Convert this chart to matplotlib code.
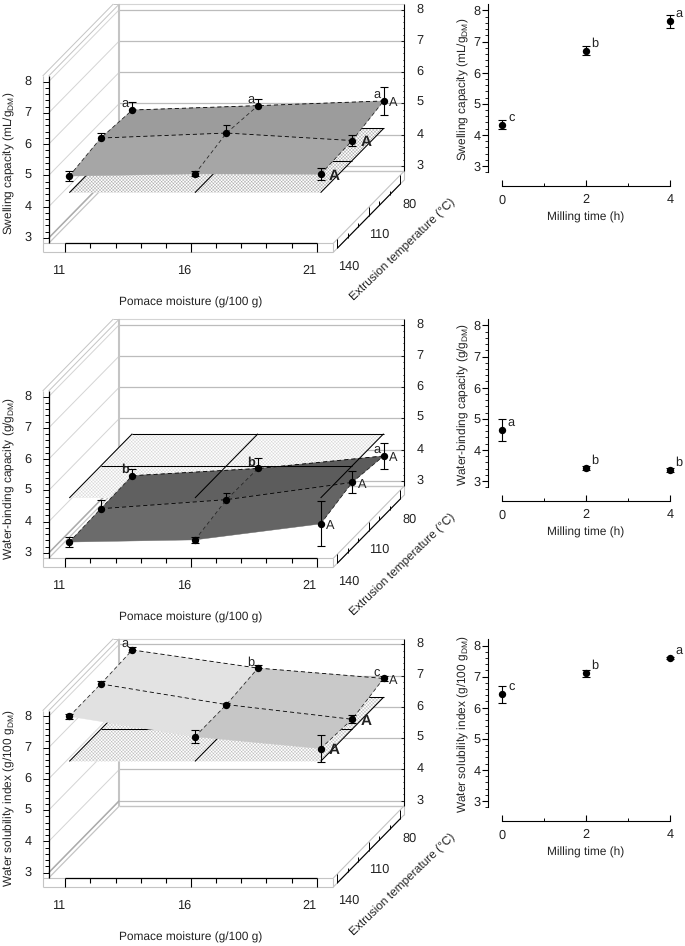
import matplotlib
matplotlib.use('Agg')
import matplotlib.pyplot as plt
from matplotlib.patches import Polygon
from matplotlib.ticker import MultipleLocator, FixedLocator

plt.rcParams['font.family'] = ['Liberation Sans', 'DejaVu Sans']
plt.rcParams['mathtext.fontset'] = 'custom'
plt.rcParams['mathtext.rm'] = 'Liberation Sans'
plt.rcParams['hatch.linewidth'] = 0.35
plt.rcParams['text.hinting'] = 'no_hinting'

W, H = 685, 946

moisture = [11, 16, 21]
temperature = [140, 110, 80]
milling = [0, 2, 4]

# rows = extrusion temperature 140, 110, 80; columns = moisture 11, 16, 21
swell_mean = [[4.85, 4.92, 4.91], [5.04, 5.20, 4.96], [4.91, 5.05, 5.20]]
swell_err = [[0.15, 0.08, 0.19], [0.15, 0.25, 0.19], [0.26, 0.22, 0.46]]
swell_mill = [4.32, 6.71, 7.65]
swell_mill_err = [0.145, 0.15, 0.215]
swell_mill_letters = ['c', 'b', 'a']
swell_row_letters = ['a', 'a', 'a']

wbc_mean = [[3.22, 3.29, 3.80], [3.26, 3.55, 4.10], [3.29, 3.52, 3.92]]
wbc_err = [[0.15, 0.10, 0.72], [0.27, 0.20, 0.35], [0.20, 0.32, 0.41]]
wbc_mill = [4.63, 3.42, 3.36]
wbc_mill_err = [0.35, 0.07, 0.07]
wbc_mill_letters = ['a', 'b', 'b']
wbc_row_letters = ['b', 'b', 'a']

wsi_mean = [[7.87, 7.22, 6.84], [7.88, 7.22, 6.75], [7.94, 7.36, 7.03]]
wsi_err = [[0.07, 0.20, 0.42], [0.10, 0.05, 0.13], [0.08, 0.11, 0.07]]
wsi_mill = [6.43, 7.10, 7.59]
wsi_mill_err = [0.28, 0.11, 0.04]
wsi_mill_letters = ['c', 'b', 'a']
wsi_row_letters = ['a', 'b', 'c']

# oblique scale of the 3d boxes
PX_M = 25.13
PX_V = 31.27
DEPTH_M = 2.812
DEPTH_V = 2.303
T_FRONT = 143.8
T_BACK = 76.5
M_LEFT_OUT = 10.098
M_LEFT = 10.337
M_RIGHT = 21.664
V_BASE = 2.83
V_STRIP = 2.543
V_TOP = 8.18

TICK_FS = 9.2
LABEL_FS = 8.6
TXT = '#222222'

fig = plt.figure(figsize=(W / 100, H / 100), dpi=100)


def depth(t):
    return (T_FRONT - t) / (T_FRONT - T_BACK)


def proj(m, t, v):
    f = depth(t)
    return m + f * DEPTH_M, v + f * DEPTH_V


def wall(m, f, v):
    return m + f * DEPTH_M, v + f * DEPTH_V


def seg(ax, a, b, color='k', lw=0.8, z=1, **kw):
    ax.plot([a[0], b[0]], [a[1], b[1]], color=color, lw=lw, zorder=z, solid_capstyle='butt', **kw)


def box_panel(y3, mean, err, plane, cells, row_letters, bold_a, plane_above, hatch_col, ylabel):
    top = y3 - 238
    ax = fig.add_axes([0, 1 - (top + 310) / H, 440 / W, 310 / H])
    ax.set_xlim(11 - 65.33 / PX_M, 11 + (440 - 65.33) / PX_M)
    ax.set_ylim(3 - 72 / PX_V, 3 + 238 / PX_V)
    ax.axis('off')

    grey = '#c4c4c4'
    # back wall and side wall
    for v in range(3, 9):
        seg(ax, wall(M_LEFT, 1, v), wall(M_RIGHT, 1, v), color='#bcbcbc', lw=0.9)
        seg(ax, wall(M_LEFT, 0, v), wall(M_LEFT, 1, v), color='#d4d4d4', lw=0.7)
    seg(ax, wall(M_LEFT, 1, V_TOP), wall(M_RIGHT, 1, V_TOP), color='#d4d4d4', lw=0.8)
    seg(ax, wall(M_LEFT, 1, V_BASE), wall(M_RIGHT, 1, V_BASE), color=grey, lw=1.0)
    seg(ax, wall(M_LEFT, 1, V_BASE), wall(M_LEFT, 1, V_TOP), color=grey, lw=1.5)
    seg(ax, wall(M_LEFT, 0, V_TOP), wall(M_LEFT, 1, V_TOP), color=grey, lw=0.7)
    seg(ax, wall(M_LEFT_OUT, 0, V_TOP), wall(M_LEFT_OUT, 1, V_TOP), color=grey, lw=0.7)
    seg(ax, wall(M_LEFT_OUT, 1, V_TOP), wall(M_LEFT, 1, V_TOP), color=grey, lw=0.7)
    seg(ax, wall(M_LEFT, 0, V_BASE), wall(M_LEFT, 1, V_BASE), color=grey, lw=0.9)
    seg(ax, wall(M_LEFT, 0, 3), wall(M_LEFT, 1, 3), color='#acacac', lw=1.1)

    # floor strips
    for a, b in [((M_LEFT_OUT, V_BASE), (M_RIGHT, V_BASE)), ((M_LEFT_OUT, V_STRIP), (M_RIGHT, V_STRIP)),
                 ((M_LEFT_OUT, V_STRIP), (M_LEFT_OUT, V_TOP)), ((M_RIGHT, V_STRIP), (M_RIGHT, V_BASE))]:
        seg(ax, a, b, color=grey, lw=0.8)
    seg(ax, wall(M_RIGHT, 0, V_BASE), wall(M_RIGHT, 1, V_BASE), color=grey, lw=0.8)
    seg(ax, wall(M_RIGHT, 0, V_STRIP), wall(M_RIGHT, 1, V_STRIP), color=grey, lw=0.8)
    seg(ax, wall(M_RIGHT, 1, V_STRIP), wall(M_RIGHT, 1, V_BASE), color=grey, lw=0.8)

    # front value axis
    seg(ax, (M_LEFT, V_BASE), (M_LEFT, V_TOP), lw=0.9, z=2)
    for i in range(3 * 5, 8 * 5 + 1):
        v = i / 5
        tick = M_LEFT_OUT if i % 5 == 0 else M_LEFT - 0.13
        seg(ax, (tick, v), (M_LEFT, v), lw=0.7, z=2)
    for v in range(3, 9):
        ax.annotate(str(v), (M_LEFT, v), xytext=(-20.5, 0), textcoords='offset pixels',
                    ha='center', va='center', fontsize=TICK_FS, color=TXT)

    # back value axis
    seg(ax, wall(M_RIGHT, 1, V_BASE), wall(M_RIGHT, 1, V_TOP), lw=0.8, z=2)
    for i in range(3 * 5, 8 * 5 + 1):
        v = i / 5
        tick = 0.1 if i % 5 == 0 else 0.05
        seg(ax, wall(M_RIGHT - tick, 1, v), wall(M_RIGHT, 1, v), lw=0.6, z=2)
    for v in range(3, 9):
        ax.annotate(str(v), wall(M_RIGHT, 1, v), xytext=(16, 0.5), textcoords='offset pixels',
                    ha='center', va='center', fontsize=TICK_FS, color=TXT)

    # moisture axis
    seg(ax, (moisture[0], V_BASE), (moisture[-1], V_BASE), lw=0.9, z=2)
    for m in range(11, 22):
        low = V_STRIP if (m - 11) % 5 == 0 else V_BASE - 0.15
        seg(ax, (m, low), (m, V_BASE), lw=0.8, z=2)
    for m in moisture:
        ax.annotate(str(m), (m, V_BASE), xytext=(-7, -27.5), textcoords='offset pixels',
                    ha='center', va='center', fontsize=TICK_FS, color=TXT)

    # temperature axis
    seg(ax, proj(M_RIGHT, temperature[0], V_STRIP), proj(M_RIGHT, temperature[-1], V_STRIP), lw=0.8, z=2)
    for k in range(0, 7):
        t = 140 - k * 10
        up = V_BASE if k % 3 == 0 else V_STRIP + 0.13
        seg(ax, proj(M_RIGHT, t, V_STRIP), proj(M_RIGHT, t, up), lw=0.7, z=2)
    for t, dx, dy in zip(temperature, [11, 10.5, 9], [-18, -18.5, -20]):
        ax.annotate(str(t), proj(M_RIGHT, t, V_STRIP), xytext=(dx, dy), textcoords='offset pixels',
                    ha='center', va='center', fontsize=TICK_FS, color=TXT)

    # reference plane of the unmilled sample
    corners = [proj(moisture[0], temperature[0], plane), proj(moisture[-1], temperature[0], plane),
               proj(moisture[-1], temperature[-1], plane), proj(moisture[0], temperature[-1], plane)]
    ax.add_patch(Polygon(corners, facecolor='white', edgecolor=hatch_col, hatch='xxxxxxxxxx', lw=0, zorder=2))
    z_plane = 4 if plane_above else 2.5
    for m in moisture:
        seg(ax, proj(m, temperature[0], plane), proj(m, temperature[-1], plane), lw=0.75, z=z_plane)
    for t in temperature[1:]:
        seg(ax, proj(moisture[0], t, plane), proj(moisture[-1], t, plane), lw=0.75, z=z_plane)

    # response surface
    for r in range(2):
        for c in range(2):
            quad = [proj(moisture[c], temperature[r], mean[r][c]),
                    proj(moisture[c + 1], temperature[r], mean[r][c + 1]),
                    proj(moisture[c + 1], temperature[r + 1], mean[r + 1][c + 1]),
                    proj(moisture[c], temperature[r + 1], mean[r + 1][c])]
            ax.add_patch(Polygon(quad, facecolor=cells[r][c], edgecolor=cells[r][c], lw=0.3, zorder=3))
    for r in [1, 2]:
        pts = [proj(moisture[c], temperature[r], mean[r][c]) for c in range(3)]
        ax.plot(*zip(*pts), color='k', lw=0.6, ls=(0, (5, 3.5)), zorder=4)
    for c in range(3):
        pts = [proj(moisture[c], temperature[r], mean[r][c]) for r in range(3)]
        ax.plot(*zip(*pts), color=TXT, lw=0.55, ls=(0, (5, 3.5)), zorder=4)

    # means and error bars
    for r in range(3):
        for c in range(3):
            x, y = proj(moisture[c], temperature[r], mean[r][c])
            z = 5 if (r == 0 or c == 2) else 2.8
            ax.errorbar([x], [y + err[r][c] / 2], yerr=[err[r][c] / 2], color='k', lw=0.8, capsize=0, zorder=5)
            ax.errorbar([x], [y - err[r][c] / 2], yerr=[err[r][c] / 2], color='k', lw=0.8, capsize=0, zorder=z)
            cap = 0.155
            seg(ax, (x - cap, y + err[r][c]), (x + cap, y + err[r][c]), lw=0.8, z=5)
            seg(ax, (x - cap, y - err[r][c]), (x + cap, y - err[r][c]), lw=0.8, z=z)
            ax.plot([x], [y], 'o', color='k', ms=5.3, mew=0, zorder=6)

    # significance letters
    for c in range(3):
        x, y = proj(moisture[c], temperature[2], mean[2][c])
        ax.annotate(row_letters[c], (x, y), xytext=(-7, 6), textcoords='offset pixels', ha='center', va='center',
                    fontsize=TICK_FS, zorder=7, color=TXT,
                    fontweight='bold' if row_letters[c] == 'b' and bold_a == 'wbc' else 'normal')
    for r in range(3):
        x, y = proj(moisture[2], temperature[r], mean[r][2])
        big = bold_a is True and r < 2
        off = 14 if big else 10
        ax.annotate('A', (x, y), xytext=(off, -2), textcoords='offset pixels', ha='center', va='center',
                    fontsize=11 if big else TICK_FS, fontweight='bold' if big else 'normal', zorder=7, color=TXT)

    ax.annotate('Pomace moisture (g/100 g)', (16, V_BASE), xytext=(-0.3, -59.5), textcoords='offset pixels',
                ha='center', va='center', fontsize=LABEL_FS, color=TXT)
    ax.annotate(ylabel, (M_LEFT, 3), xytext=(8.3 - 48.67 + 1.5, 75), textcoords='offset pixels', rotation=90,
                ha='center', va='center', fontsize=LABEL_FS, color=TXT)
    ax.annotate('Extrusion temperature (\u00b0C)', (M_RIGHT, 3), xytext=(403 - 333.3, -12), textcoords='offset pixels',
                rotation=44, ha='center', va='center', fontsize=LABEL_FS, color=TXT)


def mill_panel(y3, values, errs, letters, ylabel):
    y8 = y3 - 155.5
    top = y8 - 6
    bottom = y3 + 6.3
    ax = fig.add_axes([488 / W, 1 - bottom / H, (W - 488) / W, (bottom - top) / H])
    ax.set_xlim(-14.3 / 41.9, 4 + 15 / 41.9)
    ax.set_ylim(3 - 6.3 / 31.1, 8 + 6 / 31.1)
    ax.patch.set_alpha(0)
    for s in ['top', 'right']:
        ax.spines[s].set_visible(False)
    ax.spines['bottom'].set_position(('outward', 13.4 * 0.72))
    ax.spines['bottom'].set_bounds(0, 4)
    ax.spines['left'].set_linewidth(0.8)
    ax.spines['bottom'].set_linewidth(0.8)
    ax.xaxis.set_major_locator(FixedLocator(milling))
    ax.xaxis.set_minor_locator(MultipleLocator(1))
    ax.yaxis.set_major_locator(FixedLocator(range(3, 9)))
    ax.yaxis.set_minor_locator(MultipleLocator(0.2))
    ax.tick_params(axis='x', which='major', direction='in', length=4, width=0.8, labelsize=TICK_FS, pad=6,
                   labelcolor=TXT)
    ax.tick_params(axis='x', which='minor', direction='in', length=2, width=0.7)
    ax.tick_params(axis='y', which='major', direction='out', length=4, width=0.8, labelsize=TICK_FS, pad=1.5,
                   labelcolor=TXT)
    ax.tick_params(axis='y', which='minor', direction='out', length=2, width=0.6)
    ax.errorbar(milling, values, yerr=errs, fmt='none', ecolor='k', elinewidth=0.8, capsize=3.2, capthick=0.8)
    ax.plot(milling, values, 'o', color='k', ms=5.3, mew=0, zorder=5)
    for x, y, s in zip(milling, values, letters):
        ax.annotate(s, (x, y), xytext=(9, 7.5), textcoords='offset pixels', ha='center', va='center',
                    fontsize=TICK_FS, color=TXT, annotation_clip=False)
    fig.text(463.5 / W, 1 - (y3 - 77) / H, ylabel, rotation=90, ha='center', va='center', fontsize=LABEL_FS, color=TXT)
    fig.text(586 / W, 1 - (y3 + 51.5) / H, 'Milling time (h)', ha='center', va='center', fontsize=LABEL_FS, color=TXT)


box_panel(238, swell_mean, swell_err, swell_mill[0],
          [['#a6a6a6', '#a6a6a6'], ['#9c9c9c', '#9c9c9c']], swell_row_letters, True, False, '#b0b0b0',
          'Swelling capacity (mL/g$_{\\mathrm{DM}}$)')
box_panel(553, wbc_mean, wbc_err, wbc_mill[0],
          [['#6b6b6b', '#646464'], ['#606060', '#5c5c5c']], wbc_row_letters, 'wbc', True, '#d8d8d8',
          'Water-binding capacity (g/g$_{\\mathrm{DM}}$)')
box_panel(872.7, wsi_mean, wsi_err, wsi_mill[0],
          [['#e1e1e1', '#c6c6c6'], ['#e3e3e3', '#c9c9c9']], wsi_row_letters, True, False, '#c0c0c0',
          'Water solubility index (g/100 g$_{\\mathrm{DM}}$)')

mill_panel(166, swell_mill, swell_mill_err, swell_mill_letters, 'Swelling capacity (mL/g$_{\\mathrm{DM}}$)')
mill_panel(481, wbc_mill, wbc_mill_err, wbc_mill_letters, 'Water-binding capacity (g/g$_{\\mathrm{DM}}$)')
mill_panel(801, wsi_mill, wsi_mill_err, wsi_mill_letters, 'Water solubility index (g/100 g$_{\\mathrm{DM}}$)')

fig.savefig('out.png', dpi=100)
